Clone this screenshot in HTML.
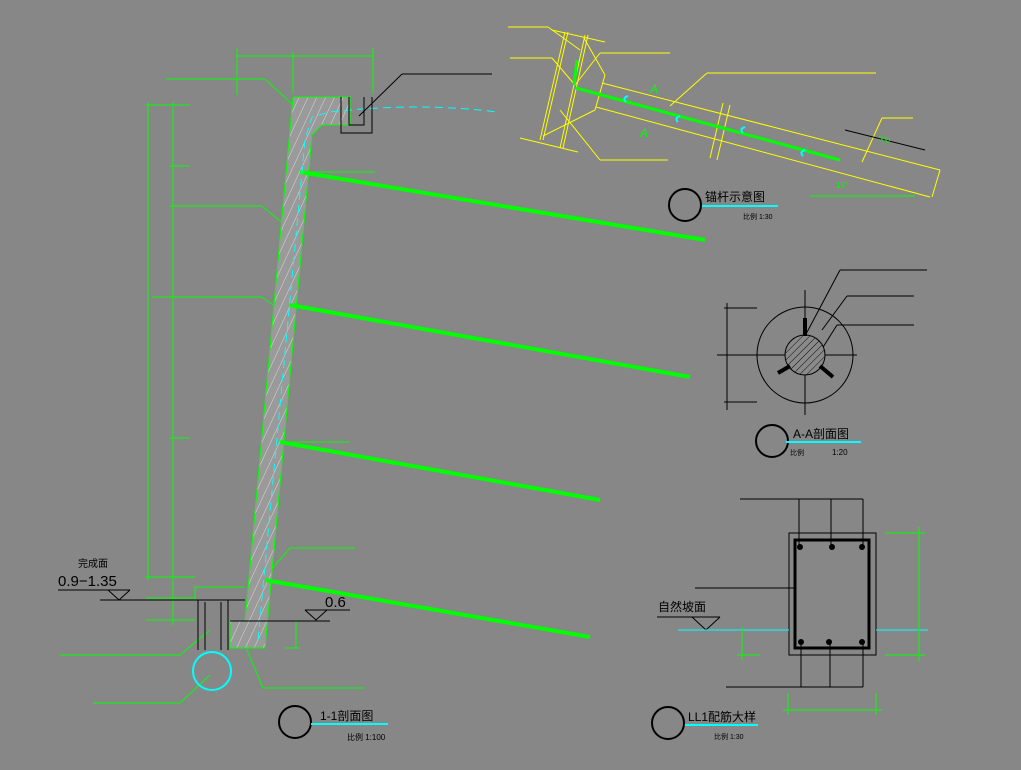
<!DOCTYPE html>
<html><head><meta charset="utf-8"><style>
html,body{margin:0;padding:0;background:#878787;width:1021px;height:770px;overflow:hidden}
svg{display:block}
text{font-family:"Liberation Sans","Noto Sans CJK SC",sans-serif}
</style></head><body>
<svg width="1021" height="770" viewBox="0 0 1021 770" xmlns="http://www.w3.org/2000/svg">
<defs>
<pattern id="h" width="8" height="8" patternUnits="userSpaceOnUse" patternTransform="rotate(25)">
<rect width="8" height="8" fill="#9a9a9a"/><line x1="0" y1="0" x2="0" y2="8" stroke="#d8d8d8" stroke-width="1"/></pattern>
<pattern id="h2" width="5" height="5" patternUnits="userSpaceOnUse" patternTransform="rotate(45)">
<rect width="5" height="5" fill="#8a8a8a"/><line x1="0" y1="0" x2="0" y2="5" stroke="#111" stroke-width="1"/></pattern>
</defs>
<g fill="none" stroke-width="1">
<!-- ===== 1-1 section ===== -->
<g stroke="#00ff00">
<line x1="237" y1="56" x2="373" y2="56"/>
<line x1="237" y1="48" x2="237" y2="95"/><line x1="293" y1="52" x2="293" y2="93"/><line x1="373" y1="48" x2="373" y2="93"/>
<line x1="148" y1="102" x2="148" y2="580"/><line x1="173" y1="102" x2="173" y2="625"/>
<line x1="146" y1="105" x2="190" y2="105"/><line x1="170" y1="166" x2="190" y2="166"/>
<line x1="170" y1="438" x2="190" y2="438"/>
<line x1="146" y1="577" x2="195" y2="577"/><line x1="146" y1="598" x2="195" y2="598"/><line x1="146" y1="620" x2="195" y2="620"/>
<line x1="166" y1="79" x2="265" y2="79"/><line x1="265" y1="79" x2="293" y2="105"/>
<line x1="170" y1="206" x2="262" y2="206"/><line x1="262" y1="206" x2="285" y2="225"/>
<line x1="152" y1="297" x2="262" y2="297"/><line x1="262" y1="297" x2="280" y2="310"/>
<line x1="290" y1="548" x2="355" y2="548"/><line x1="290" y1="548" x2="262" y2="580"/>
<line x1="60" y1="655" x2="180" y2="655"/><line x1="180" y1="655" x2="210" y2="630"/>
<line x1="93" y1="703" x2="180" y2="703"/><line x1="180" y1="703" x2="210" y2="675"/>
<line x1="263" y1="688" x2="365" y2="688"/><line x1="263" y1="688" x2="245" y2="645"/>
<line x1="195" y1="587" x2="245" y2="587"/><line x1="195" y1="587" x2="195" y2="600"/>
<line x1="296" y1="621" x2="296" y2="648"/><line x1="285" y1="648" x2="300" y2="648"/>
<line x1="290" y1="442" x2="350" y2="442"/><line x1="300" y1="172" x2="375" y2="172"/>
</g>
<polygon points="293,97 350,97 350,125 322,125 312,135 265,648 230,648 230,621 245,621" fill="url(#h)" stroke="#00ff00"/>
<g stroke="#00ff00" stroke-width="4">
<line x1="300" y1="172" x2="705" y2="240"/><line x1="290" y1="305" x2="690" y2="377"/>
<line x1="280" y1="442" x2="600" y2="500"/><line x1="265" y1="580" x2="590" y2="637"/>
</g>
<path d="M258,640 L305,140 L312,117 L330,112 Q420,102 497,112" stroke="#00ffff" stroke-dasharray="8,5"/>
<g stroke="#000">
<path d="M341,97 V133 H372 V97"/><path d="M349,97 V125 H364 V97"/>
<line x1="359" y1="116" x2="402" y2="74"/><line x1="402" y1="74" x2="492" y2="74"/>
<line x1="100" y1="600" x2="245" y2="600"/><line x1="230" y1="621" x2="330" y2="621"/>
<line x1="198" y1="600" x2="198" y2="650"/><line x1="205" y1="602" x2="205" y2="650"/>
<line x1="221" y1="602" x2="221" y2="650"/><line x1="228" y1="600" x2="228" y2="650"/>
<line x1="58" y1="590" x2="130" y2="590"/><path d="M108,590 L119,600 L130,590"/>
<line x1="305" y1="610" x2="350" y2="610"/><path d="M305,610 L316,620 L327,610"/>
</g>
<circle cx="212" cy="671" r="19" stroke="#00ffff" stroke-width="2"/>
<text x="78" y="567" font-size="10" fill="#000" stroke="none">完成面</text>
<text x="58" y="586" font-size="15" fill="#000" stroke="none">0.9−1.35</text>
<text x="325" y="607" font-size="15" fill="#000" stroke="none">0.6</text>
<circle cx="295" cy="722" r="16" stroke="#000" stroke-width="2"/>
<line x1="311" y1="724" x2="388" y2="724" stroke="#00ffff" stroke-width="2"/>
<text x="320" y="720" font-size="12" fill="#000" stroke="none">1-1剖面图</text>
<text x="347" y="740" font-size="8" fill="#000" stroke="none">比例 1:100</text>

<!-- ===== anchor detail ===== -->
<g stroke="#ffff00">
<line x1="508" y1="27" x2="548" y2="27"/><line x1="548" y1="27" x2="580" y2="50"/>
<line x1="510" y1="58" x2="552" y2="58"/><line x1="552" y1="58" x2="575" y2="85"/>
<line x1="552" y1="30" x2="605" y2="42"/>
<line x1="565" y1="32" x2="540" y2="140"/><line x1="568" y1="32" x2="543" y2="140"/>
<line x1="585" y1="35" x2="560" y2="148"/><line x1="588" y1="35" x2="563" y2="148"/>
<line x1="584" y1="38" x2="605" y2="75"/><line x1="605" y1="75" x2="595" y2="110"/><line x1="595" y1="110" x2="543" y2="136"/>
<line x1="600" y1="53" x2="670" y2="53"/><line x1="600" y1="53" x2="575" y2="85"/>
<line x1="520" y1="138" x2="578" y2="152"/>
<line x1="560" y1="110" x2="600" y2="160"/><line x1="600" y1="160" x2="668" y2="160"/>
<line x1="602" y1="83" x2="940" y2="170"/><line x1="596" y1="107" x2="930" y2="197"/>
<line x1="940" y1="170" x2="932" y2="197"/>
<line x1="723" y1="103" x2="710" y2="158"/><line x1="730" y1="105" x2="717" y2="160"/>
<line x1="670" y1="106" x2="707" y2="73"/><line x1="707" y1="73" x2="876" y2="73"/>
<line x1="862" y1="162" x2="882" y2="118"/><line x1="882" y1="118" x2="913" y2="118"/>
</g>
<line x1="576" y1="88" x2="840" y2="160" stroke="#00ff00" stroke-width="3"/>
<line x1="577" y1="60" x2="574" y2="85" stroke="#00ff00" stroke-width="3"/>
<line x1="810" y1="196" x2="915" y2="196" stroke="#00ff00"/>
<line x1="845" y1="130" x2="925" y2="150" stroke="#000"/>
<g stroke="#00ffff" stroke-width="2"><path d="M628,96 q-6,2 -2,6"/><path d="M680,116 q-6,2 -2,6"/><path d="M745,127 q-6,2 -2,6"/><path d="M805,150 q-6,2 -2,6"/></g>
<text x="650" y="93" font-size="12" fill="#00ff00" stroke="none" font-style="italic">A</text>
<text x="640" y="137" font-size="12" fill="#00ff00" stroke="none" font-style="italic">A</text>
<text x="878" y="140" font-size="7" fill="#00ff00" stroke="none" transform="rotate(15 878 140)">500</text>
<text x="836" y="188" font-size="8" fill="#00ff00" stroke="none">15°</text>
<circle cx="685" cy="205" r="16" stroke="#000" stroke-width="2"/>
<line x1="702" y1="206" x2="778" y2="206" stroke="#00ffff" stroke-width="2"/>
<text x="705" y="201" font-size="12" fill="#000" stroke="none">锚杆示意图</text>
<text x="743" y="219" font-size="7" fill="#000" stroke="none">比例 1:30</text>

<!-- ===== A-A ===== -->
<g stroke="#000">
<circle cx="805" cy="355" r="48"/>
<line x1="717" y1="355" x2="857" y2="355"/><line x1="805" y1="290" x2="805" y2="415"/>
<line x1="727" y1="303" x2="727" y2="410"/>
<line x1="724" y1="308" x2="757" y2="308"/><line x1="724" y1="402" x2="757" y2="402"/>
<line x1="805" y1="336" x2="840" y2="270"/><line x1="840" y1="270" x2="927" y2="270"/>
<line x1="822" y1="330" x2="847" y2="296"/><line x1="847" y1="296" x2="914" y2="296"/>
<line x1="820" y1="352" x2="837" y2="325"/><line x1="837" y1="325" x2="914" y2="325"/>
</g>
<circle cx="805" cy="355" r="20" fill="url(#h2)" stroke="#000"/>
<g stroke="#000" stroke-width="4"><line x1="805" y1="318" x2="805" y2="336"/><line x1="778" y1="373" x2="790" y2="366"/><line x1="833" y1="377" x2="820" y2="366"/></g>
<circle cx="772" cy="441" r="16" stroke="#000" stroke-width="2"/>
<line x1="786" y1="442" x2="861" y2="442" stroke="#00ffff" stroke-width="2"/>
<text x="793" y="438" font-size="12" fill="#000" stroke="none">A-A剖面图</text>
<text x="790" y="455" font-size="7" fill="#000" stroke="none">比例</text>
<text x="832" y="455" font-size="8" fill="#000" stroke="none">1:20</text>

<!-- ===== LL1 ===== -->
<g stroke="#000">
<rect x="789" y="533" width="87" height="122"/>
<rect x="795" y="540" width="74" height="108" stroke-width="3"/>
<line x1="740" y1="499" x2="863" y2="499"/>
<line x1="799" y1="499" x2="799" y2="545"/><line x1="831" y1="499" x2="831" y2="545"/><line x1="863" y1="499" x2="863" y2="545"/>
<line x1="726" y1="687" x2="863" y2="687"/>
<line x1="801" y1="640" x2="801" y2="687"/><line x1="830" y1="640" x2="830" y2="687"/><line x1="863" y1="640" x2="863" y2="687"/>
<line x1="695" y1="588" x2="795" y2="588"/>
<line x1="657" y1="617" x2="720" y2="617"/><path d="M692,617 L706,630 L720,617"/>
</g>
<g fill="#000"><circle cx="800" cy="547" r="3"/><circle cx="832" cy="547" r="3"/><circle cx="862" cy="547" r="3"/><circle cx="801" cy="642" r="3"/><circle cx="829" cy="642" r="3"/><circle cx="862" cy="642" r="3"/></g>
<g stroke="#00ffff"><line x1="678" y1="630" x2="789" y2="630"/><line x1="876" y1="630" x2="928" y2="630"/></g>
<g stroke="#00ff00">
<line x1="919" y1="527" x2="919" y2="661"/><line x1="885" y1="533" x2="925" y2="533"/><line x1="885" y1="655" x2="925" y2="655"/>
<line x1="742" y1="627" x2="742" y2="660"/><line x1="737" y1="655" x2="760" y2="655"/>
<line x1="783" y1="710" x2="882" y2="710"/><line x1="788" y1="693" x2="788" y2="715"/><line x1="876" y1="693" x2="876" y2="715"/>
</g>
<text x="658" y="611" font-size="12" fill="#000" stroke="none">自然坡面</text>
<circle cx="668" cy="723" r="16" stroke="#000" stroke-width="2"/>
<line x1="685" y1="725" x2="758" y2="725" stroke="#00ffff" stroke-width="2"/>
<text x="688" y="721" font-size="12" fill="#000" stroke="none">LL1配筋大样</text>
<text x="714" y="739" font-size="7" fill="#000" stroke="none">比例 1:30</text>
</g>
</svg>
</body></html>
